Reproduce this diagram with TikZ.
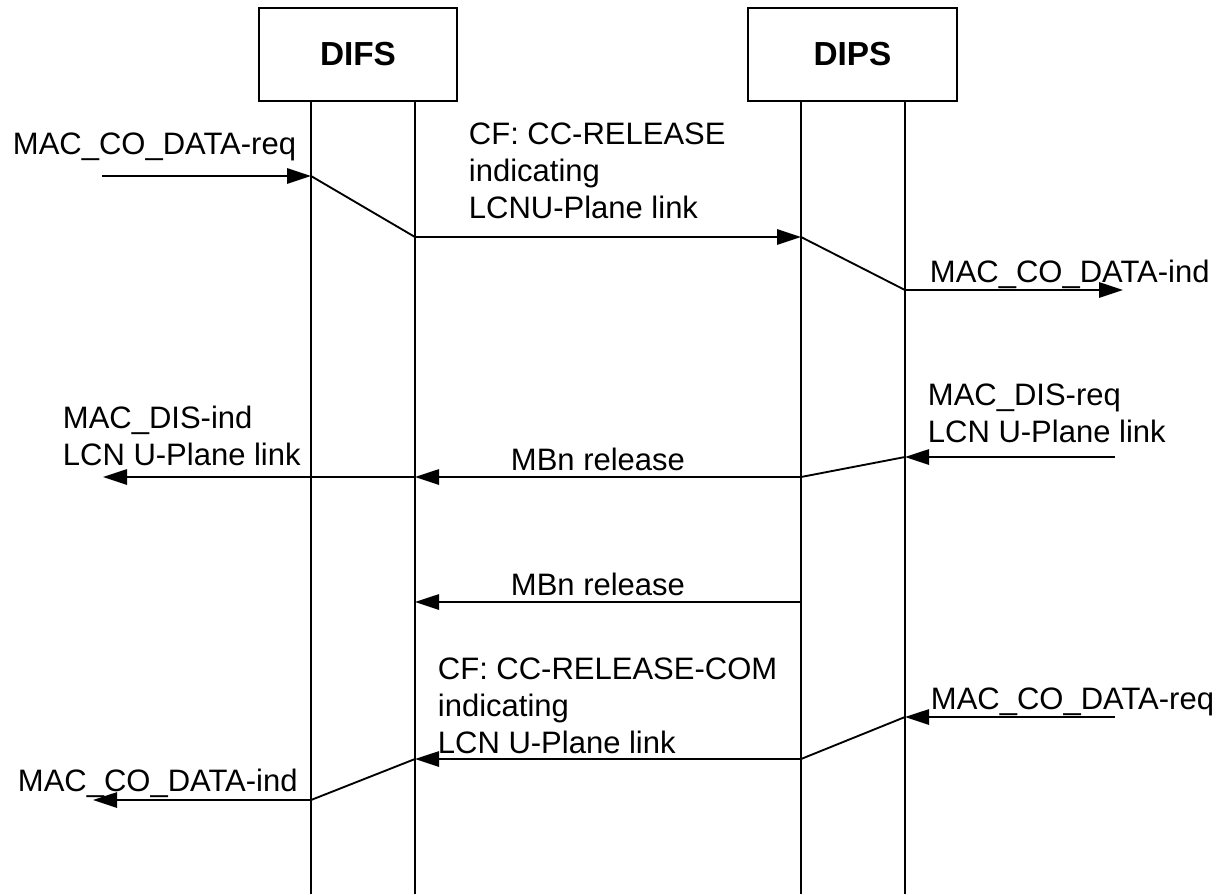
\documentclass[tikz,border=0pt]{standalone}
\usepackage{fontspec}
\setmainfont{Liberation Sans}
\usetikzlibrary{arrows.meta}

\tikzset{every picture/.style={line width=1.4pt}}
\tikzset{
  entity/.style={draw, line width=1.2pt, inner sep=0pt, minimum height=69.75pt, font=\fontsize{25}{30}\selectfont\bfseries},
  msg/.style={-{Triangle[length=18pt,width=11.5pt]}},
  lbl/.style={anchor=north west, inner sep=0pt, align=left, font=\fontsize{23.25}{27.9}\selectfont},
}

\begin{document}
\begin{tikzpicture}[x=0.75pt,y=0.75pt,yscale=-1,xscale=1]
\useasboundingbox (0,0) rectangle (1231,894);

%Shape: Rectangle
\node [entity, minimum width=148.5pt] (difs) at (358,54.5) {DIFS};
%Shape: Rectangle
\node [entity, minimum width=156.75pt] (dips) at (852.5,54.5) {DIPS};

%Lifelines
\coordinate (difsA) at (311,101);  \coordinate (difsAb) at (311,894);
\coordinate (difsB) at (415,101);  \coordinate (difsBb) at (415,894);
\coordinate (dipsA) at (801,101);  \coordinate (dipsAb) at (801,894);
\coordinate (dipsB) at (905,101);  \coordinate (dipsBb) at (905,894);
\draw (difsA) -- (difsAb);
\draw (difsB) -- (difsBb);
\draw (dipsA) -- (dipsAb);
\draw (dipsB) -- (dipsBb);

%Release
\coordinate (reqIn) at (102,176);
\coordinate (rel1) at (311,176);
\coordinate (rel2) at (415,237);
\coordinate (rel3) at (801,237);
\coordinate (rel4) at (905,290);
\coordinate (indOut) at (1123,290);
\draw [msg] (reqIn) -- (rel1);
\draw (rel1) -- (rel2);
\draw [msg] (rel2) -- (rel3);
\draw (rel3) -- (rel4);
\draw [msg] (rel4) -- (indOut);

%Disconnect
\coordinate (disIn) at (1115,457);
\coordinate (dis1) at (905,457);
\coordinate (dis2) at (801,477);
\coordinate (dis3) at (415,477);
\coordinate (disOut) at (103,477);
\draw [msg] (disIn) -- (dis1);
\draw (dis1) -- (dis2);
\draw [msg] (dis2) -- (dis3);
\draw [msg] (dis3) -- (disOut);

%MBn release
\coordinate (mbn1) at (801,602);
\coordinate (mbn2) at (415,602);
\draw [msg] (mbn1) -- (mbn2);

%Release complete
\coordinate (comIn) at (1115,717);
\coordinate (com1) at (905,717);
\coordinate (com2) at (801,759);
\coordinate (com3) at (415,759);
\coordinate (com4) at (311,800);
\coordinate (comOut) at (93,800);
\draw [msg] (comIn) -- (com1);
\draw (com1) -- (com2);
\draw [msg] (com2) -- (com3);
\draw (com3) -- (com4);
\draw [msg] (com4) -- (comOut);

% Text Node
\node [lbl] (reqTxt) at (12,132) {MAC\_CO\_DATA-req};
% Text Node
\node [lbl] (relTxt) at (468,122) {CF: CC-RELEASE\\indicating\\LCNU-Plane link};
% Text Node
\node [lbl] (indTxt) at (929,259) {MAC\_CO\_DATA-ind};
% Text Node
\node [lbl] (disReqTxt) at (927,383) {MAC\_DIS-req\\LCN U-Plane link};
% Text Node
\node [lbl] (disIndTxt) at (62,405) {MAC\_DIS-ind\\LCN U-Plane link};
% Text Node
\node [lbl] (mbnTxtA) at (510,447) {MBn release};
% Text Node
\node [lbl] (mbnTxtB) at (510,572) {MBn release};
% Text Node
\node [lbl] (comTxt) at (437,657) {CF: CC-RELEASE-COM\\indicating\\LCN U-Plane link};
% Text Node
\node [lbl] (comReqTxt) at (930,687) {MAC\_CO\_DATA-req};
% Text Node
\node [lbl] (comIndTxt) at (17,768) {MAC\_CO\_DATA-ind};

\end{tikzpicture}
\end{document}
